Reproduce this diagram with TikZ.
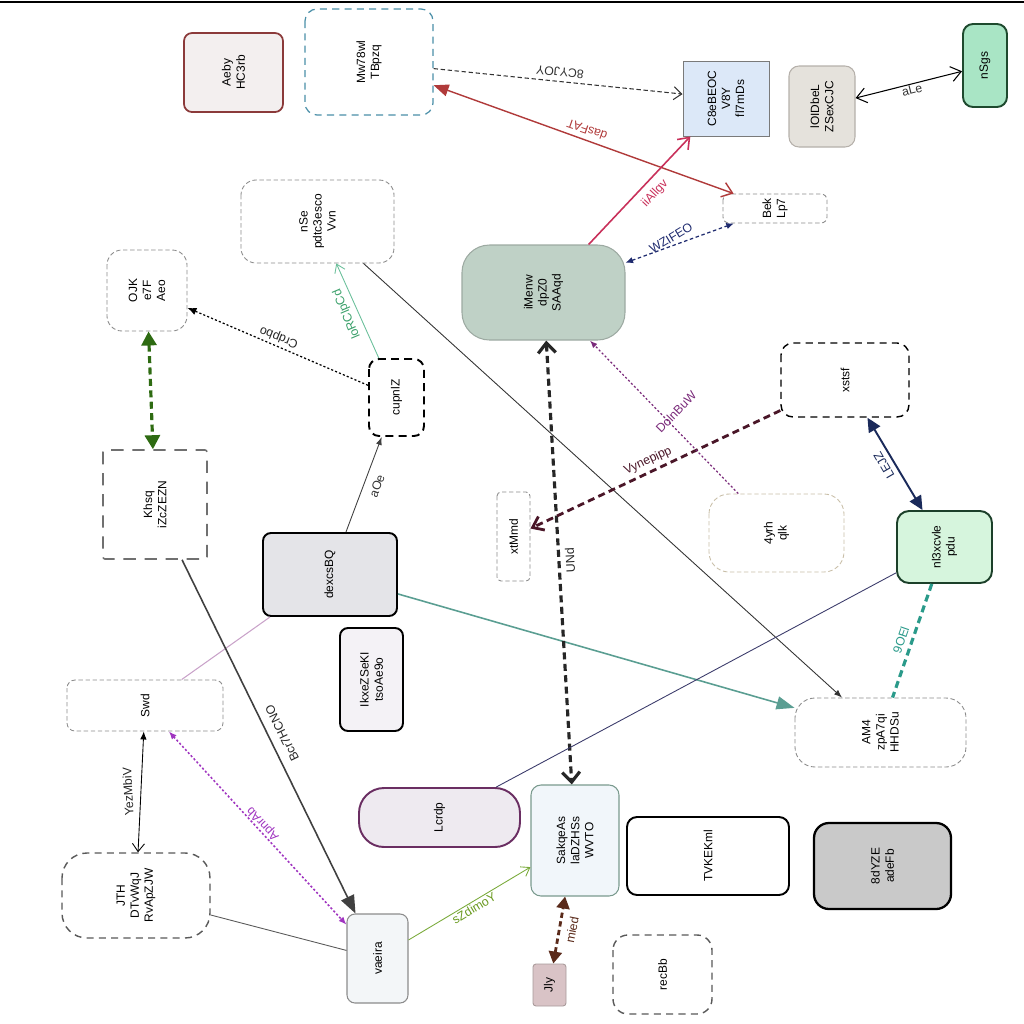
\documentclass[tikz,border=0pt]{standalone}
\usepackage{fontspec}
\setmainfont{Liberation Sans}
\usetikzlibrary{arrows.meta}

\definecolor{hcred}{HTML}{8B3A3A}
\definecolor{hcfill}{HTML}{F3EFEF}
\definecolor{tbblue}{HTML}{4A8FA8}
\definecolor{dgray}{HTML}{8C8C8C}
\definecolor{cbfill}{HTML}{DCE8F8}
\definecolor{cbline}{HTML}{7A7A7A}
\definecolor{jofill}{HTML}{E5E2DC}
\definecolor{joline}{HTML}{B5B0AA}
\definecolor{nsfill}{HTML}{A9E5C5}
\definecolor{nsline}{HTML}{1E4A2E}
\definecolor{safill}{HTML}{BFD1C6}
\definecolor{saline}{HTML}{9DAAA2}
\definecolor{khgray}{HTML}{707070}
\definecolor{dqfill}{HTML}{E4E4E8}
\definecolor{ikfill}{HTML}{F4F2F6}
\definecolor{nltan}{HTML}{C9BFA8}
\definecolor{pdfill}{HTML}{D6F5DD}
\definecolor{pdline}{HTML}{1C402A}
\definecolor{lcfill}{HTML}{EEEAF0}
\definecolor{lcline}{HTML}{6A2E62}
\definecolor{vafill}{HTML}{F3F6F8}
\definecolor{wvfill}{HTML}{F1F6FA}
\definecolor{wvline}{HTML}{7A9A8E}
\definecolor{adfill}{HTML}{C9C9C9}
\definecolor{ljfill}{HTML}{D9C3C6}
\definecolor{ljline}{HTML}{A89A9A}
\definecolor{redarr}{HTML}{B03A3A}
\definecolor{crim}{HTML}{C8305A}
\definecolor{navy}{HTML}{1E2A6E}
\definecolor{tealg}{HTML}{6ABF9A}
\definecolor{lgreen}{HTML}{3AA06A}
\definecolor{dkgreen}{HTML}{2E6B12}
\definecolor{teal}{HTML}{5A9E92}
\definecolor{pinkl}{HTML}{C9A2C9}
\definecolor{purp}{HTML}{A035C0}
\definecolor{ygreen}{HTML}{7AAA3A}
\definecolor{ogreen}{HTML}{6A9A20}
\definecolor{maroon}{HTML}{4A1628}
\definecolor{violet}{HTML}{7A2A7A}
\definecolor{navyb}{HTML}{1A2A5A}
\definecolor{tealdk}{HTML}{2A9A8A}
\definecolor{slate}{HTML}{3A3A6A}
\definecolor{brown}{HTML}{5A2A1A}

\begin{document}
\begin{tikzpicture}[x=0.2mm, y=-0.2mm,
	box/.style={rotate=90, draw, align=center, inner sep=1pt, line width=0.6pt,
		font=\fontsize{6.8}{8}\selectfont},
	dbox/.style={box, draw=dgray, fill=white, line width=0.5pt, dash pattern=on 2.5pt off 1.5pt},
	kbox/.style={box, fill=white, line width=0.8pt, dash pattern=on 4pt off 3pt},
	lbl/.style={inner sep=0.5pt, font=\fontsize{7}{8}\selectfont}]
	\useasboundingbox (0, 0) rectangle (1024, 1024);

	%% top rule
	\draw[line width=1.2pt] (0, 2) -- (1024, 2);

	%% boxes, upper part
	\node[box, fill=hcfill, draw=hcred, line width=1pt, rounded corners=1.6mm, minimum width=15.8mm, minimum height=19.8mm] (hc) at (233.5, 72.5) {Aeby\\HC3rb};
	\node[kbox, draw=tbblue, line width=0.7pt, rounded corners=2.4mm, minimum width=21.2mm, minimum height=25.6mm] (tb) at (369, 62) {Mw78wl\\TBpzq};
	\node[dbox, rounded corners=3mm, minimum width=16.6mm, minimum height=30.6mm] (vv) at (317.5, 221.5) {nSe\\pdtc3esco\\Vvn};
	\node[dbox, rounded corners=3mm, minimum width=16.2mm, minimum height=16mm] (ag) at (147, 290.5) {OJK\\e7F\\Aeo};
	\node[box, fill=cbfill, draw=cbline, line width=0.5pt, minimum width=15mm, minimum height=17.2mm] (cb) at (726, 98.5) {C8eBEOC\\V8Y\\fl7mDs};
	\node[box, fill=jofill, draw=joline, rounded corners=2mm, minimum width=16.2mm, minimum height=13.2mm] (jo) at (822, 106.5) {lOIDbeL\\ZSexCJC};
	\node[box, fill=nsfill, draw=nsline, line width=1.1pt, rounded corners=2mm, minimum width=16.6mm, minimum height=8.8mm] (ns) at (985, 65.5) {nSgs};
	\node[dbox, rounded corners=1.2mm, minimum width=5.8mm, minimum height=20.8mm] (bk) at (775, 208.5) {Bek\\Lp7};
	\node[box, fill=safill, draw=saline, rounded corners=5.5mm, minimum width=19mm, minimum height=32.6mm] (sa) at (543.5, 292.5) {iMenw\\dpZ0\\SAAqd};

	%% boxes, middle part
	\node[box, fill=white, draw=khgray, line width=0.9pt, dash pattern=on 7pt off 5pt, rounded corners=0.4mm, minimum width=21.8mm, minimum height=20.8mm] (kh) at (155, 504.5) {Khsq\\iZcZEZN};
	\node[kbox, line width=1.1pt, dash pattern=on 4.5pt off 3pt, rounded corners=2mm, minimum width=15.4mm, minimum height=11mm] (cu) at (396.5, 397.5) {cupnlZ};
	\node[box, fill=dqfill, line width=1.1pt, rounded corners=1.6mm, minimum width=16.6mm, minimum height=26.8mm] (dq) at (330, 574.5) {dexcsBQ};
	\node[box, fill=ikfill, line width=1.1pt, rounded corners=1.6mm, minimum width=20.6mm, minimum height=12.6mm] (ik) at (371.5, 679.5) {IkxeZSeKI\\tsoAe9o};
	\node[kbox, rounded corners=2.4mm, minimum width=14.8mm, minimum height=25.6mm] (xs) at (845, 380) {xstsf};
	\node[dbox, draw=nltan, rounded corners=4mm, minimum width=15.6mm, minimum height=27mm] (nl) at (776.5, 533) {4yrh\\qlk};
	\node[box, fill=pdfill, draw=pdline, line width=1.1pt, rounded corners=2.4mm, minimum width=14.4mm, minimum height=19mm] (pd) at (944.5, 547) {nl3xcvle\\pdu};
	\node[dbox, rounded corners=0.8mm, minimum width=17.8mm, minimum height=6.6mm] (xm) at (513.5, 536.5) {xtMmd};

	%% boxes, lower part
	\node[dbox, rounded corners=1.6mm, minimum width=10.2mm, minimum height=31.2mm] (sw) at (145, 705.5) {Swd};
	\node[kbox, draw=black!65, rounded corners=5mm, minimum width=17mm, minimum height=29.6mm] (jt) at (136, 895.5) {JTH\\DTvWqJ\\RvApZJW};
	\node[box, fill=lcfill, draw=lcline, line width=1.1pt, rounded corners=5mm, minimum width=11.8mm, minimum height=32.2mm] (lc) at (439.5, 817.5) {Lcrdp};
	\node[box, fill=vafill, draw=dgray, rounded corners=1.6mm, minimum width=17.8mm, minimum height=12.2mm] (va) at (377.5, 958.5) {vaeira};
	\node[dbox, rounded corners=4mm, minimum width=13.8mm, minimum height=34.2mm] (hh) at (880.5, 732.5) {AM4\\zpA7qi\\HHDSu};
	\node[box, fill=wvfill, draw=wvline, rounded corners=2mm, minimum width=22.2mm, minimum height=17.6mm] (wv) at (575, 840.5) {SakqeAs\\laDZHSs\\WVTO};
	\node[box, fill=white, line width=1.1pt, rounded corners=2mm, minimum width=15.6mm, minimum height=32.4mm] (tv) at (708, 856) {TVKEKml};
	\node[box, fill=adfill, line width=1.3pt, rounded corners=3mm, minimum width=17.2mm, minimum height=27.4mm] (ad) at (882.5, 866) {8dYZE\\adeFb};
	\node[box, fill=ljfill, draw=ljline, line width=0.5pt, rounded corners=0.6mm, minimum width=8.4mm, minimum height=6.6mm] (lj) at (549.5, 985) {Jly};
	\node[kbox, draw=black!65, rounded corners=3mm, minimum width=15.8mm, minimum height=19.8mm] (rc) at (662.5, 974.5) {recBb};

	%% connectors
	\draw[black!80, line width=0.6pt, dash pattern=on 2.5pt off 1.5pt, -{Straight Barb[length=1.6mm, width=2.6mm]}] (tb) -- (cb);
	\draw[redarr, line width=0.8pt, {Triangle[length=3mm, width=2.4mm]}-{Straight Barb[length=2mm, width=3mm]}] (tb) -- (bk);
	\draw[crim, line width=0.9pt, -{Straight Barb[length=2mm, width=3mm]}] (sa) -- (cb);
	\draw[navy, line width=0.7pt, dash pattern=on 2pt off 1.5pt, {Latex[length=1.5mm, width=1.3mm]}-{Latex[length=1.5mm, width=1.3mm]}] (sa) -- (bk);
	\draw[black, line width=0.6pt, {Straight Barb[length=2mm, width=3mm]}-{Straight Barb[length=2mm, width=3mm]}] (jo) -- (ns);
	\draw[black!80, line width=0.5pt, -{Latex[length=1.6mm, width=1.2mm]}] (vv) -- (hh);
	\draw[tealg, line width=0.5pt, -{Straight Barb[length=1.6mm, width=2.2mm]}] (cu) -- (vv);
	\draw[black, line width=0.7pt, dash pattern=on 1.2pt off 1.2pt, -{Latex[length=1.8mm, width=1.5mm]}] (cu) -- (ag);
	\draw[dkgreen, line width=1.8pt, dash pattern=on 4pt off 2.5pt, {Triangle[length=2.8mm, width=3mm]}-{Triangle[length=2.8mm, width=3mm]}] (ag) -- (kh);
	\draw[black!75, line width=0.5pt, -{Latex[length=1.6mm, width=1.2mm]}] (dq) -- (cu);
	\draw[teal, line width=0.9pt, -{Triangle[length=3.6mm, width=2.6mm]}] (dq) -- (hh);
	\draw[pinkl, line width=0.6pt] (dq) -- (sw);
	\draw[black!75, line width=0.9pt, -{Triangle[length=3.6mm, width=2.8mm]}] (kh) -- (va);
	\draw[purp, line width=0.9pt, dash pattern=on 1.2pt off 1.2pt, {Latex[length=1.6mm, width=1.3mm]}-{Latex[length=1.6mm, width=1.3mm]}] (sw) -- (va);
	\draw[black, line width=0.5pt, {Latex[length=1.6mm, width=1.3mm]}-{Straight Barb[length=1.6mm, width=2.4mm]}] (sw) -- (jt);
	\draw[black!65, line width=0.5pt] (jt) -- (va);
	\draw[ygreen, line width=0.5pt, -{Straight Barb[length=1.6mm, width=2.2mm]}] (va) -- (wv);
	\draw[black!85, line width=1.8pt, dash pattern=on 4pt off 2.5pt, {Straight Barb[length=2mm, width=3.5mm]}-{Straight Barb[length=2mm, width=3.5mm]}] (sa) -- (wv);
	\draw[maroon, line width=1.6pt, dash pattern=on 4pt off 2.5pt, -{Straight Barb[length=2mm, width=3mm]}] (xs) -- (xm);
	\draw[violet, line width=0.7pt, dash pattern=on 1.2pt off 1.2pt, -{Latex[length=1.5mm, width=1.2mm]}] (nl) -- (sa);
	\draw[navyb, line width=1.1pt, {Triangle[length=2.8mm, width=2.6mm]}-{Triangle[length=2.8mm, width=2.6mm]}] (xs) -- (pd);
	\draw[tealdk, line width=1.8pt, dash pattern=on 4pt off 2.5pt] (pd) -- (hh);
	\draw[slate, line width=0.5pt] (pd) -- (lc);
	\draw[brown, line width=1.6pt, dash pattern=on 3pt off 2pt, {Triangle[length=2.4mm, width=2.6mm]}-{Triangle[length=2.4mm, width=2.6mm]}] (lj) -- (wv);

	%% connector labels
	\node[lbl, text=black!80, rotate=174] (l1) at (560, 72) {8CYJOY};
	\node[lbl, text=redarr, rotate=161] (l2) at (587, 130) {dasFAT};
	\node[lbl, text=crim, rotate=47] (l3) at (655, 194) {iiAllgv};
	\node[lbl, text=navy, rotate=31] (l4) at (671, 238) {WZIFEO};
	\node[lbl, text=black!80, rotate=14] (l5) at (912, 90) {aLe};
	\node[lbl, text=lgreen, rotate=113] (l7) at (347, 314) {loRClpCd};
	\node[lbl, text=black!85, rotate=158] (l8) at (279, 337) {Crdpbo};
	\node[lbl, text=black!80, rotate=69] (l10) at (377, 486) {aOe};
	\node[lbl, text=black!85, rotate=116] (l13) at (282, 733) {Bcr7HCNO};
	\node[lbl, text=purp, rotate=133] (l14) at (263, 824) {ApnrAb};
	\node[lbl, text=black!85, rotate=93] (l15) at (128, 792) {YezMbiV};
	\node[lbl, text=ogreen, rotate=31] (l17) at (474, 908) {sZdimoY};
	\node[lbl, text=black!85, rotate=93] (l18) at (570, 560) {UNd};
	\node[lbl, text=maroon, rotate=25] (l19) at (648, 461) {Vynepipp};
	\node[lbl, text=violet, rotate=46] (l20) at (676, 412) {DolnBuW};
	\node[lbl, text=navyb, rotate=120] (l21) at (884, 465) {LEJZ};
	\node[lbl, text=tealdk, rotate=71] (l22) at (901, 640) {9OEl};
	\node[lbl, text=brown, rotate=79] (l24) at (572, 930) {mied};
\end{tikzpicture}
\end{document}
